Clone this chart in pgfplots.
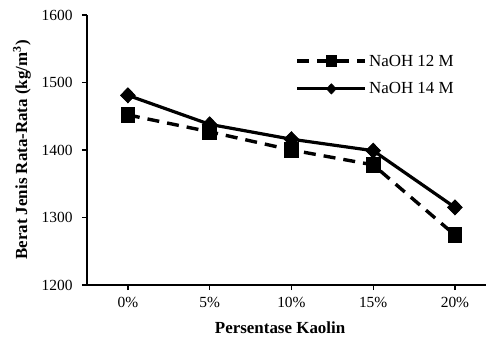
\documentclass[border=0pt]{standalone}
\usepackage{pgfplots}
\pgfplotsset{compat=1.18}
\usepackage{fontspec}
\setmainfont{Liberation Serif}
\begin{document}
\begin{tikzpicture}
\begin{axis}[
  name=ax,
  scale only axis,
  width=399bp, height=270bp,
  xmin=-0.5, xmax=4.38,
  ymin=1200, ymax=1600,
  ytick={1200,1300,1400,1500,1600},
  xtick={0,1,2,3,4},
  xticklabels={0\%,5\%,10\%,15\%,20\%},
  axis x line=bottom, axis y line=left,
  axis line style={-, line width=1.5bp, black},
  tick align=outside,
  major tick length=5bp,
  tick style={black, line width=1.3bp},
  /pgf/number format/assume math mode=true,
  /pgf/number format/1000 sep={},
  tick label style={font=\fontsize{15.5}{18}\selectfont},
  xticklabel style={yshift=-4bp},
  yticklabel style={xshift=-6bp},
  xlabel={\textbf{Persentase Kaolin}},
  ylabel={\textbf{Berat Jenis Rata-Rata (kg/m\textsuperscript{3})}},
  label style={font=\fontsize{17}{20}\selectfont},
  xlabel style={at={(axis description cs:0.484,-0.159)}, anchor=center},
  ylabel style={at={(axis description cs:-0.163,0.5)}, anchor=center},
  legend style={draw=none, fill=none, at={(axis description cs:0.515,0.868)}, anchor=north west,
    font=\fontsize{17}{20}\selectfont, row sep=11bp},
  legend cell align=left,
  legend image code/.code={\draw[mark repeat=2,mark phase=2,#1,mark size=5bp] plot coordinates {(0bp,0bp) (34bp,0bp) (68bp,0bp)};},
]
\addplot[black, line width=3.4bp, dash pattern=on 12bp off 8bp, mark=square*, mark size=6.8bp,
  mark options={solid, fill=black, line width=0.8bp, yscale=1.1}] coordinates {
  (0,1452) (1,1427) (2,1400) (3,1378) (4,1274)};
\addlegendentry{NaOH 12 M}
\addplot[black, line width=3.2bp, mark=diamond*, mark size=7.5bp,
  mark options={solid, fill=black, line width=0.8bp, xscale=1.3}] coordinates {
  (0,1481) (1,1438) (2,1416) (3,1399) (4,1315)};
\addlegendentry{NaOH 14 M}
\end{axis}
\pgfresetboundingbox
\path[use as bounding box] ([xshift=-87bp,yshift=-60bp]ax.south west) rectangle ([xshift=1bp,yshift=15bp]ax.north east);
\end{tikzpicture}
\end{document}
